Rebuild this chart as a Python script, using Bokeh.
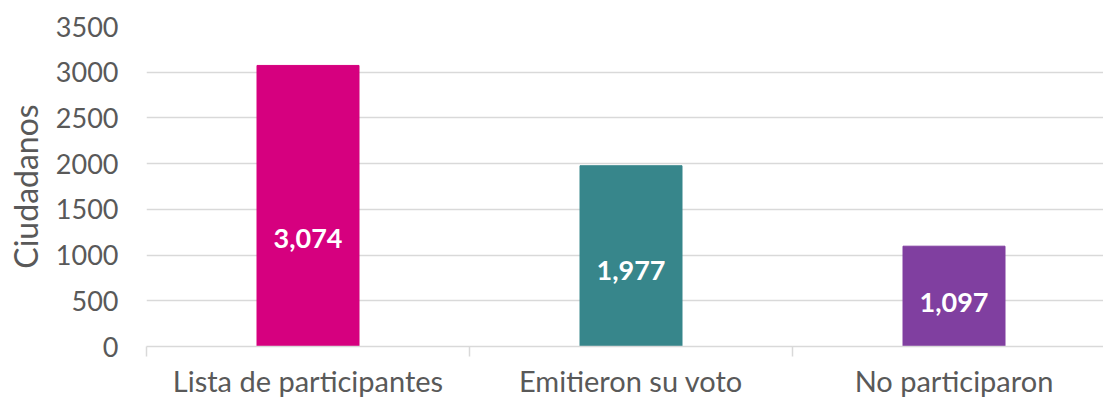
from bokeh.plotting import figure
from bokeh.models import ColumnDataSource, Range1d, FixedTicker, LabelSet
from bokeh.core.properties import value
from bokeh.embed import file_html
from bokeh.resources import INLINE

categories = ["Lista de participantes", "Emitieron su voto", "No participaron"]
values = [3074, 1977, 1097]
value_labels = ["3,074", "1,977", "1,097"]
colors = ["#D6007F", "#37868B", "#803FA0"]
label_y = [1180, 830, 480]
y_ticks = [0, 500, 1000, 1500, 2000, 2500, 3000, 3500]

FONT = "Lato"
GREY = "#595959"

xs = [i + 0.5 for i in range(len(categories))]
src = ColumnDataSource(dict(x=xs, top=values, color=colors, lab=value_labels, ly=label_y))

p = figure(width=1103, height=400, output_backend="svg", toolbar_location=None,
           x_range=Range1d(0, (1103 - 146) / 323), y_range=Range1d(0, 3500))
p.min_border_left = 146
p.min_border_right = 0
p.min_border_top = 26
p.min_border_bottom = 54
p.outline_line_color = None
p.background_fill_color = "white"
p.border_fill_color = "white"

p.vbar(x="x", top="top", width=102 / 323, color="color", source=src)

labels = LabelSet(x="x", y="ly", text="lab", source=src, text_align="center",
                  text_baseline="middle", text_color="white", text_font=value(FONT),
                  text_font_style="bold", text_font_size="27px")
p.add_layout(labels)

# x axis
p.xaxis.ticker = FixedTicker(ticks=xs, minor_ticks=[0, 1, 2, 3])
p.xaxis.major_label_overrides = {x: c for x, c in zip(xs, categories)}
p.xaxis.major_tick_line_color = None
p.xaxis.major_tick_out = 0
p.xaxis.major_tick_in = 0
p.xaxis.minor_tick_out = 10
p.xaxis.minor_tick_in = 0
p.xaxis.minor_tick_line_color = "#D9D9D9"
p.xaxis.minor_tick_line_width = 1.5
p.xaxis.axis_line_color = "#D9D9D9"
p.xaxis.axis_line_width = 1.5
p.xaxis.major_label_text_font = FONT
p.xaxis.major_label_text_font_size = "29px"
p.xaxis.major_label_text_color = GREY
p.xaxis.major_label_standoff = 6
p.xgrid.grid_line_color = None

# y axis
p.yaxis.ticker = FixedTicker(ticks=y_ticks)
p.yaxis.axis_line_color = None
p.yaxis.major_tick_line_color = None
p.yaxis.major_tick_out = 0
p.yaxis.major_tick_in = 0
p.yaxis.minor_tick_line_color = None
p.yaxis.major_label_text_font = FONT
p.yaxis.major_label_text_font_size = "27px"
p.yaxis.major_label_text_color = GREY
p.yaxis.major_label_standoff = 28
p.yaxis.axis_label = "Ciudadanos"
p.yaxis.axis_label_text_font = FONT
p.yaxis.axis_label_text_font_size = "32px"
p.yaxis.axis_label_text_font_style = "normal"
p.yaxis.axis_label_text_color = GREY
p.yaxis.axis_label_standoff = 8
p.ygrid.grid_line_color = "#D9D9D9"
p.ygrid.grid_line_width = 1.5

open("out.html", "w").write(file_html(p, INLINE))
